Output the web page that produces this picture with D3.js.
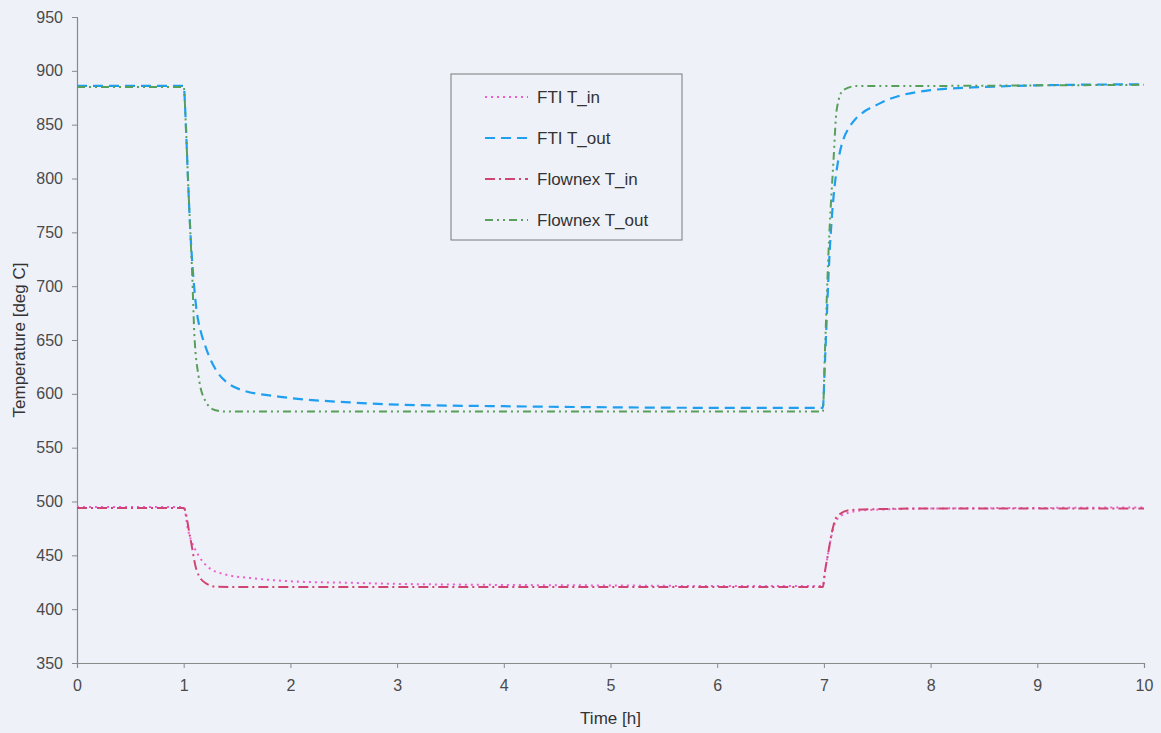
<!DOCTYPE html>
<html>
<head>
<meta charset="utf-8">
<script src="https://cdn.jsdelivr.net/npm/d3@7"></script>
<style>
  html, body { margin: 0; padding: 0; background: #eff1f9; }
  svg { display: block; font-family: "Liberation Sans", Arial, sans-serif; }
</style>
</head>
<body>
<svg id="chart" width="1161" height="733"></svg>
<script>
// Time axis ticks and temperature ticks
const xTicks = [0, 1, 2, 3, 4, 5, 6, 7, 8, 9, 10];
const yTicks = [350, 400, 450, 500, 550, 600, 650, 700, 750, 800, 850, 900, 950];

// FTI outlet temperature
const ftiOutTime = [0, 1.0, 1.02, 1.04, 1.06, 1.09, 1.12, 1.16, 1.2, 1.26, 1.31, 1.4, 1.53, 1.93, 2.56, 3, 4, 5, 6, 6.99, 7.01, 7.05, 7.12, 7.24, 7.53, 8.0, 8.5, 9, 10];
const ftiOutTemp = [886, 886, 850, 800, 755, 709, 678, 658, 645, 630, 621, 611, 604, 597, 592, 590, 588.5, 587.5, 587, 587, 630, 724, 808, 848, 870, 882, 885, 886.5, 887.5];

// Flownex outlet temperature
const flxOutTime = [0, 1.0, 1.02, 1.04, 1.06, 1.08, 1.1, 1.14, 1.2, 1.29, 1.4, 3, 5, 6.99, 7.01, 7.04, 7.09, 7.12, 7.18, 7.31, 8, 9, 10];
const flxOutTemp = [885, 885, 850, 800, 755, 710, 655, 616, 594, 585, 583.5, 583.5, 583.5, 583.5, 640, 724, 817, 864, 882, 886, 886, 886.5, 887];

// FTI inlet temperature
const ftiInTime = [0, 1.0, 1.04, 1.11, 1.15, 1.23, 1.40, 1.62, 2.09, 2.56, 3, 4, 5, 6, 6.99, 7.01, 7.04, 7.08, 7.12, 7.21, 7.4, 8, 9, 10];
const ftiInTemp = [495, 495, 474, 455, 448, 439, 432, 429, 425.5, 424.5, 423.5, 422.5, 422, 421.5, 421.5, 435, 452, 472, 483, 489, 492, 493.5, 494, 494.5];

// Flownex inlet temperature
const flxInTime = [0, 1.0, 1.06, 1.12, 1.2, 1.31, 1.5, 3, 5, 6.99, 7.01, 7.04, 7.08, 7.12, 7.24, 7.53, 8, 9, 10];
const flxInTemp = [494, 494, 467, 436.5, 424.5, 420.8, 420.5, 420.5, 420.5, 420.5, 435, 452, 473.7, 485.7, 492, 493, 493.5, 493.5, 493.5];

const seriesNames = ["FTI T_in", "FTI T_out", "Flownex T_in", "Flownex T_out"];

const series = [
  { name: seriesNames[0], t: ftiInTime, v: ftiInTemp, color: "#f25ccf", dash: "2,4", width: 2 },
  { name: seriesNames[1], t: ftiOutTime, v: ftiOutTemp, color: "#1e9ff0", dash: "10,6", width: 2.2 },
  { name: seriesNames[2], t: flxInTime, v: flxInTemp, color: "#cf4470", dash: "10,4,2,4", width: 2 },
  { name: seriesNames[3], t: flxOutTime, v: flxOutTemp, color: "#58a05a", dash: "8,4,2,4,2,4", width: 2 }
];

const svg = d3.select("#chart");
const margin = { left: 77, right: 17, top: 17, bottom: 70 };
const W = 1161, H = 733;

const x = d3.scaleLinear().domain([0, 10]).range([margin.left, W - margin.right]);
const y = d3.scaleLinear().domain([350, 950]).range([H - margin.bottom, margin.top]);

const axisColor = "#8a8a8a";
const textColor = "#4a4a4a";

// Y axis
const gy = svg.append("g")
  .attr("transform", `translate(${margin.left},0)`)
  .call(d3.axisLeft(y).tickValues(yTicks).tickSize(5).tickPadding(9));
// X axis
const gx = svg.append("g")
  .attr("transform", `translate(0,${H - margin.bottom})`)
  .call(d3.axisBottom(x).tickValues(xTicks).tickSize(5).tickPadding(12));

[gx, gy].forEach(g => {
  g.select(".domain").attr("stroke", axisColor).attr("stroke-width", 1.2);
  g.selectAll(".tick line").attr("stroke", axisColor);
  g.selectAll(".tick text").attr("fill", textColor).style("font-size", "16px")
    .style("font-family", "'Liberation Sans', Arial, sans-serif");
});

// Axis titles
svg.append("text")
  .attr("x", (margin.left + W - margin.right) / 2)
  .attr("y", 724)
  .attr("text-anchor", "middle")
  .attr("fill", "#333")
  .style("font-size", "17px")
  .text("Time [h]");

svg.append("text")
  .attr("transform", `translate(25,${(margin.top + H - margin.bottom) / 2}) rotate(-90)`)
  .attr("text-anchor", "middle")
  .attr("fill", "#333")
  .style("font-size", "17px")
  .text("Temperature [deg C]");

// Series lines
const line = d3.line()
  .x(d => x(d[0]))
  .y(d => y(d[1]))
  .curve(d3.curveMonotoneX);

series.forEach(s => {
  const pts = s.t.map((t, i) => [t, s.v[i]]);
  svg.append("path")
    .datum(pts)
    .attr("fill", "none")
    .attr("stroke", s.color)
    .attr("stroke-width", s.width)
    .attr("stroke-dasharray", s.dash)
    .attr("d", line);
});

// Legend
const legend = svg.append("g").attr("transform", "translate(451,74)");
legend.append("rect")
  .attr("width", 231).attr("height", 166)
  .attr("fill", "#eff1f9")
  .attr("stroke", "#7a7a7a").attr("stroke-width", 1);

series.forEach((s, i) => {
  const ly = 23 + i * 41;
  legend.append("line")
    .attr("x1", 34).attr("x2", 77)
    .attr("y1", ly).attr("y2", ly)
    .attr("stroke", s.color)
    .attr("stroke-width", s.width)
    .attr("stroke-dasharray", s.dash);
  legend.append("text")
    .attr("x", 86).attr("y", ly)
    .attr("dy", "0.35em")
    .attr("fill", "#333")
    .style("font-size", "17px")
    .text(s.name);
});
</script>
</body>
</html>
